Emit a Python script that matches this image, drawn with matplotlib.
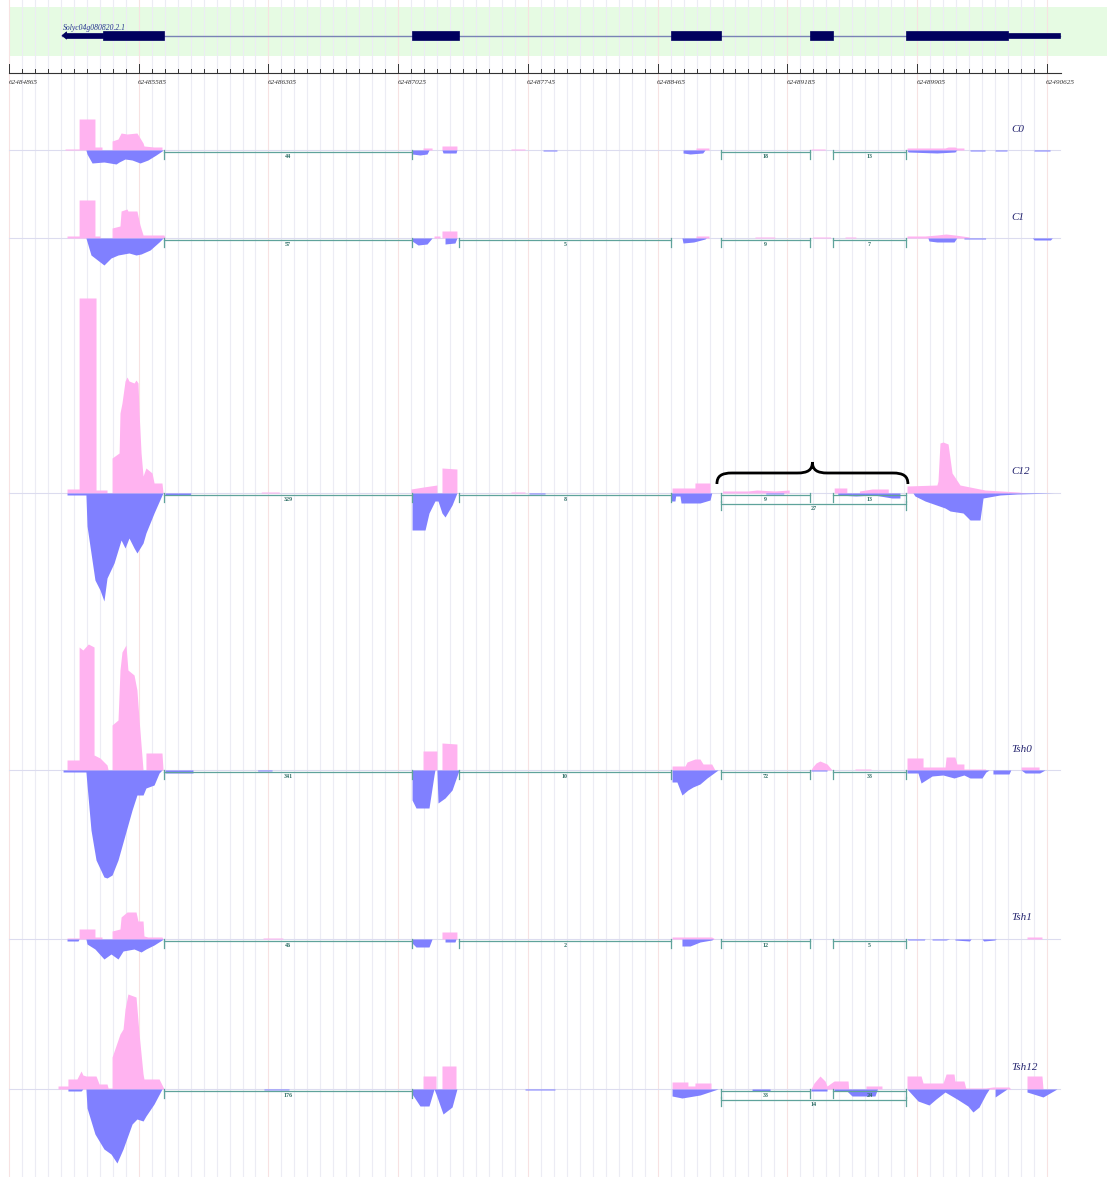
import numpy as np
import matplotlib
matplotlib.use("Agg")
import matplotlib.pyplot as plt
from matplotlib.path import Path
from matplotlib.patches import PathPatch, Rectangle, Polygon

# canvas size in pixels (dpi 100)
W, H = 1107, 1177

# genomic window, positions below are bp offsets from REGION_START
REGION_START = 62484865
X_MIN, X_MAX = -50, 6094

RULER_MAJOR = np.arange(0, 5761, 720)
RULER_MINOR = np.arange(0, 5761, 72)

# gene model
GENE_NAME = "Solyc04g080820.2.1"
GENE_SPAN = (294, 5833)
CDS_EXONS = [(522, 860), (2237, 2498), (3674, 3952), (4446, 4573), (4978, 5544)]
UTR_PARTS = [(318, 522), (5544, 5833)]

# tracks
TRACK_NAMES = ["C0", "C1", "C12", "Tsh0", "Tsh1", "Tsh12"]
TRACK_BASELINES = [150, 238, 493, 770, 939, 1089]   # pixel rows

# coverage: (position, depth) — plus strand drawn up, minus strand drawn down
C0_PLUS = [(311, 0), (311, 1), (389, 1), (389, 31), (477, 31), (477, 3), (516, 3), (516, 0),
           (572, 0), (572, 9), (605, 11), (622, 17), (655, 16), (710, 17), (744, 7), (749, 4), (805, 3), (849, 3), (849, 0),
           (2298, 0), (2298, 2), (2348, 2), (2348, 0), (2403, 0), (2403, 4), (2486, 4), (2486, 0),
           (2786, 0), (2786, 1), (2864, 1), (2864, 0),
           (3813, 0), (3813, 2), (3885, 2), (3885, 0),
           (4451, 0), (4451, 1), (4530, 1), (4530, 0),
           (4984, 0), (4984, 2), (5195, 2), (5212, 3), (5250, 3), (5261, 2), (5300, 2), (5300, 0)]
C0_MINUS = [(427, 0), (433, 4), (461, 13), (527, 12), (594, 14), (611, 12), (644, 9), (683, 10), (727, 13),
            (771, 10), (816, 5), (849, 1), (855, 0),
            (2237, 0), (2237, 4), (2281, 5), (2320, 4), (2331, 0),
            (2403, 0), (2409, 3), (2481, 3), (2486, 0),
            (2964, 0), (2964, 1), (3041, 1), (3041, 0),
            (3741, 0), (3741, 3), (3780, 4), (3850, 3), (3863, 0),
            (4984, 0), (4990, 2), (5150, 3), (5250, 2), (5260, 0),
            (5334, 0), (5334, 1), (5417, 1), (5417, 0),
            (5473, 0), (5473, 1), (5539, 1), (5539, 0),
            (5689, 0), (5689, 1), (5778, 1), (5778, 0)]

C1_PLUS = [(322, 0), (322, 2), (389, 2), (389, 38), (477, 38), (477, 2), (505, 2), (505, 0),
           (572, 0), (572, 10), (616, 12), (622, 27), (655, 29), (660, 27), (710, 27), (727, 13), (744, 3), (860, 3), (866, 0),
           (2359, 0), (2359, 2), (2392, 2), (2392, 0), (2403, 0), (2403, 7), (2486, 7), (2486, 0),
           (3813, 0), (3813, 2), (3885, 2), (3885, 0),
           (4140, 0), (4140, 1), (4250, 1), (4250, 0),
           (4460, 0), (4460, 1), (4560, 1), (4560, 0),
           (4640, 0), (4640, 1), (4700, 1), (4700, 0),
           (4984, 0), (4984, 2), (5084, 2), (5150, 3), (5200, 4), (5250, 3), (5330, 1), (5330, 0)]
C1_MINUS = [(427, 0), (455, 17), (527, 27), (566, 20), (605, 17), (666, 15), (705, 17), (733, 16), (783, 12), (833, 4), (855, 0),
            (2237, 0), (2237, 3), (2270, 7), (2320, 6), (2348, 0),
            (2420, 0), (2420, 6), (2475, 5), (2486, 0),
            (3735, 0), (3741, 5), (3800, 4), (3863, 1), (3870, 0),
            (5100, 0), (5106, 3), (5150, 4), (5245, 4), (5260, 0),
            (5300, 0), (5300, 1), (5420, 1), (5420, 0),
            (5680, 0), (5690, 2), (5780, 2), (5790, 0)]

C12_PLUS = [(322, 0), (322, 4), (389, 4), (389, 195), (483, 195), (483, 3), (544, 3), (544, 0),
            (572, 0), (572, 35), (611, 40), (616, 80), (627, 90), (644, 112), (655, 116), (666, 112), (694, 110),
            (705, 113), (716, 110), (722, 80), (733, 40), (744, 17), (760, 25), (794, 20), (805, 10), (849, 10), (855, 0),
            (1400, 0), (1400, 1), (1500, 1), (1500, 0),
            (2231, 0), (2231, 4), (2300, 6), (2375, 8), (2375, 0), (2403, 0), (2403, 25), (2486, 24), (2486, 0),
            (2786, 0), (2786, 1), (2864, 1), (2864, 0),
            (3680, 0), (3680, 5), (3807, 5), (3807, 10), (3891, 10), (3891, 0),
            (3960, 0), (3960, 2), (4100, 2), (4150, 3), (4250, 2), (4330, 3), (4330, 0),
            (4580, 0), (4580, 5), (4650, 5), (4650, 0),
            (4720, 0), (4720, 2), (4790, 4), (4880, 4), (4880, 0),
            (4984, 0), (4984, 7), (5150, 8), (5156, 12), (5167, 50), (5184, 51), (5212, 49), (5234, 20),
            (5278, 8), (5361, 5), (5417, 3), (5600, 1), (5650, 0)]
C12_MINUS = [(322, 0), (322, 2), (383, 2), (427, 2), (433, 33), (477, 87), (505, 97), (527, 108), (544, 85), (583, 70),
             (622, 47), (644, 55), (666, 45), (694, 55), (710, 60), (744, 50), (760, 40), (805, 20), (849, 2), (855, 0),
             (866, 0), (866, 2), (1005, 2), (1010, 0),
             (2237, 0), (2237, 37), (2309, 37), (2331, 20), (2364, 8), (2381, 8), (2403, 20), (2420, 24), (2459, 12), (2486, 0),
             (2886, 0), (2886, 1), (2975, 1), (2975, 0),
             (3674, 0), (3674, 8), (3696, 8), (3700, 3), (3724, 3), (3730, 10), (3835, 10), (3891, 7), (3900, 0),
             (4200, 0), (4200, 1), (4300, 1), (4300, 0),
             (4600, 0), (4600, 2), (4700, 3), (4800, 2), (4900, 5), (4945, 5), (4945, 0),
             (5017, 0), (5028, 3), (5084, 8), (5195, 15), (5223, 18), (5295, 20), (5334, 27), (5389, 27),
             (5406, 5), (5500, 2), (5594, 1), (5800, 0)]

TSH0_PLUS = [(322, 0), (322, 10), (389, 10), (389, 123), (410, 120), (440, 126), (472, 123), (472, 15), (505, 12), (544, 5), (550, 0),
             (572, 0), (572, 45), (605, 50), (616, 100), (627, 118), (649, 125), (660, 100), (694, 95), (710, 80),
             (722, 50), (744, 0),
             (760, 0), (760, 17), (849, 17), (855, 0),
             (2298, 0), (2298, 19), (2375, 19), (2375, 0), (2403, 0), (2403, 27), (2486, 26), (2486, 0),
             (3680, 0), (3680, 4), (3752, 4), (3763, 8), (3807, 11), (3835, 11), (3852, 6), (3900, 6), (3918, 0),
             (4451, 0), (4460, 3), (4479, 7), (4501, 9), (4540, 6), (4568, 0),
             (4695, 0), (4695, 1), (4784, 1), (4784, 0),
             (4984, 0), (4984, 12), (5073, 12), (5073, 3), (5195, 3), (5201, 13), (5250, 13), (5261, 6), (5300, 6),
             (5300, 1), (5420, 1), (5420, 0),
             (5617, 0), (5617, 3), (5717, 3), (5717, 0)]
TSH0_MINUS = [(300, 0), (300, 2), (427, 2), (433, 15), (455, 60), (483, 90), (527, 107), (544, 108), (572, 105), (605, 90),
              (644, 65), (683, 40), (710, 25), (744, 25), (760, 18), (805, 15), (833, 3), (849, 0),
              (866, 0), (866, 3), (1021, 3), (1021, 0),
              (1380, 0), (1380, 1), (1460, 1), (1460, 0),
              (2237, 0), (2237, 30), (2259, 38), (2331, 38), (2359, 5), (2364, 0), (2375, 0), (2381, 33), (2420, 28), (2459, 20), (2498, 0),
              (3680, 0), (3680, 12), (3707, 12), (3735, 25), (3768, 20), (3796, 17), (3835, 14), (3874, 8), (3935, 0),
              (4451, 0), (4451, 1), (4540, 1), (4540, 0),
              (4984, 0), (4984, 3), (5045, 3), (5062, 13), (5123, 6), (5184, 5), (5245, 8), (5300, 5), (5334, 8),
              (5400, 8), (5422, 2), (5440, 0),
              (5461, 0), (5461, 4), (5550, 4), (5560, 0),
              (5617, 0), (5640, 3), (5720, 3), (5750, 0)]

TSH1_PLUS = [(322, 0), (322, 1), (389, 1), (389, 10), (477, 10), (477, 2), (516, 2), (516, 0),
             (572, 0), (572, 8), (616, 10), (622, 22), (655, 27), (705, 27), (716, 18), (744, 18), (749, 3), (771, 2), (849, 2), (855, 0),
             (1410, 0), (1410, 1), (1520, 1), (1520, 0),
             (2403, 0), (2403, 7), (2486, 7), (2486, 0),
             (3680, 0), (3680, 2), (3900, 2), (3918, 0),
             (5650, 0), (5650, 2), (5733, 2), (5733, 0)]
TSH1_MINUS = [(322, 0), (322, 2), (383, 2), (389, 0), (427, 0), (433, 5), (477, 10), (527, 20), (566, 15), (605, 20), (633, 12),
              (694, 10), (733, 13), (760, 10), (805, 6), (849, 1), (855, 0),
              (2237, 0), (2237, 4), (2259, 8), (2331, 8), (2348, 0),
              (2420, 0), (2420, 3), (2475, 3), (2481, 0),
              (3735, 0), (3735, 7), (3780, 7), (3835, 3), (3900, 1), (3910, 0),
              (4984, 0), (4990, 1), (5080, 1), (5084, 0), (5123, 0), (5123, 1), (5200, 1), (5220, 0),
              (5250, 0), (5250, 1), (5330, 2), (5340, 0), (5400, 0), (5410, 2), (5470, 1), (5480, 0)]

TSH12_PLUS = [(272, 0), (272, 3), (327, 3), (327, 10), (377, 10), (400, 18), (410, 14), (427, 13), (483, 13), (500, 5),
              (544, 5), (550, 1), (572, 1),
              (572, 32), (616, 55), (633, 60), (644, 80), (660, 95), (705, 92), (722, 55), (744, 15), (749, 10),
              (833, 10), (855, 2), (860, 0),
              (2298, 0), (2298, 13), (2370, 13), (2370, 0), (2403, 0), (2403, 23), (2481, 23), (2481, 0),
              (3680, 0), (3680, 7), (3768, 7), (3768, 3), (3807, 3), (3807, 6), (3896, 6), (3896, 0),
              (4451, 0), (4468, 6), (4501, 13), (4529, 8), (4540, 3), (4579, 8), (4657, 8), (4660, 0),
              (4756, 0), (4756, 3), (4845, 3), (4845, 0),
              (4984, 0), (4984, 13), (5062, 13), (5073, 6), (5184, 6), (5201, 15), (5245, 15), (5250, 8), (5300, 8),
              (5310, 1), (5420, 1), (5461, 2), (5550, 2), (5560, 0),
              (5650, 0), (5650, 13), (5733, 13), (5739, 0)]
TSH12_MINUS = [(327, 0), (327, 2), (400, 2), (410, 0), (427, 0), (433, 19), (477, 45), (527, 60), (566, 65), (599, 74),
               (633, 60), (683, 35), (710, 30), (744, 32), (760, 27), (805, 15), (849, 0),
               (1415, 0), (1415, 1), (1554, 1), (1554, 0),
               (2237, 0), (2237, 5), (2281, 17), (2331, 17), (2359, 0), (2370, 5), (2409, 25), (2459, 18), (2486, 0),
               (2864, 0), (2864, 1), (3030, 1), (3030, 0),
               (3680, 0), (3680, 7), (3735, 9), (3835, 6), (3935, 0),
               (4124, 0), (4124, 2), (4224, 2), (4224, 0),
               (4451, 0), (4451, 2), (4540, 2), (4540, 0),
               (4579, 0), (4579, 2), (4650, 2), (4679, 7), (4806, 7), (4820, 0),
               (4984, 0), (5045, 12), (5106, 16), (5145, 10), (5195, 3), (5261, 10), (5322, 17), (5350, 23),
               (5384, 18), (5422, 5), (5440, 0),
               (5473, 0), (5473, 8), (5539, 0),
               (5650, 0), (5650, 3), (5739, 8), (5816, 0)]

# splice junctions: (start, end, read count, row)
C0_JUNCTIONS = [(860, 2237, 44, 1), (3952, 4446, 18, 1), (4573, 4978, 13, 1)]
C1_JUNCTIONS = [(860, 2237, 57, 1), (2498, 3674, 5, 1), (3952, 4446, 9, 1), (4573, 4978, 7, 1)]
C12_JUNCTIONS = [(860, 2237, 329, 1), (2498, 3674, 8, 1), (3952, 4446, 9, 1), (4573, 4978, 13, 1), (3952, 4978, 27, 2)]
TSH0_JUNCTIONS = [(860, 2237, 341, 1), (2498, 3674, 10, 1), (3952, 4446, 72, 1), (4573, 4978, 33, 1)]
TSH1_JUNCTIONS = [(860, 2237, 46, 1), (2498, 3674, 2, 1), (3952, 4446, 12, 1), (4573, 4978, 5, 1)]
TSH12_JUNCTIONS = [(860, 2237, 176, 1), (3952, 4446, 33, 1), (4573, 4978, 24, 1), (3952, 4978, 14, 2)]

TRACK_PLUS = [C0_PLUS, C1_PLUS, C12_PLUS, TSH0_PLUS, TSH1_PLUS, TSH12_PLUS]
TRACK_MINUS = [C0_MINUS, C1_MINUS, C12_MINUS, TSH0_MINUS, TSH1_MINUS, TSH12_MINUS]
TRACK_JUNCTIONS = [C0_JUNCTIONS, C1_JUNCTIONS, C12_JUNCTIONS, TSH0_JUNCTIONS, TSH1_JUNCTIONS, TSH12_JUNCTIONS]

# brace over the exon-skipping region in C12
BRACE_TRACK = "C12"
BRACE_SPAN = (3929, 4989)

PLUS_COLOR = "#ffb3f0"
MINUS_COLOR = "#8080ff"
JUNC_COLOR = "#5fa39b"
JUNC_TEXT = "#2e6e66"
NAVY = "#00005e"
LABEL_COLOR = "#23236e"
SERIF = ["Liberation Serif", "DejaVu Serif"]

fig = plt.figure(figsize=(W / 100, H / 100), dpi=100)

# background: gene model band, ruler and grid (y in pixel rows)
bg = fig.add_axes([0, 0, 1, 1])
bg.set_xlim(X_MIN, X_MAX)
bg.set_ylim(H, 0)
bg.axis("off")

bg.add_patch(Rectangle((0, 7), X_MAX, 49, facecolor="#e6fbe3", edgecolor="none", zorder=0))
for x in RULER_MINOR:
    major = x % 720 == 0
    bg.axvline(x, color="#f7e2e2" if major else "#ececf4", lw=0.8, zorder=1)

# gene model
bg.plot(GENE_SPAN, [35.5, 35.5], color="#7883b5", lw=1.0, zorder=2)
for s, e in CDS_EXONS:
    bg.add_patch(Rectangle((s, 31), e - s, 9, facecolor=NAVY, edgecolor=NAVY, lw=0.5, zorder=3))
for s, e in UTR_PARTS:
    bg.add_patch(Rectangle((s, 33.3), e - s, 4.6, facecolor=NAVY, edgecolor=NAVY, lw=0.5, zorder=3))
bg.add_patch(Polygon([(GENE_SPAN[0], 35.5), (GENE_SPAN[0] + 26, 31.8), (GENE_SPAN[0] + 26, 39.2)],
                     closed=True, facecolor=NAVY, edgecolor=NAVY, lw=0.5, zorder=3))
bg.text(GENE_SPAN[0] + 6, 28, GENE_NAME, fontsize=5.5, style="italic", family=SERIF,
        color="#24338f", ha="left", va="center", zorder=4)

# ruler
bg.plot([0, 5839], [73, 73], color="#333333", lw=0.8, zorder=3)
for x in RULER_MINOR:
    top = 63.5 if x % 720 == 0 else 68.5
    bg.plot([x, x], [top, 73], color="#333333", lw=0.7, zorder=3)
for x in RULER_MAJOR:
    bg.text(x - 4, 83, str(REGION_START + x), fontsize=5.2, style="italic", family=SERIF,
            color="#333333", ha="left", va="center", zorder=3)

ABOVE, BELOW = 205, 120


def draw_junction(ax, start, end, count, row):
    y_line = -2 if row == 1 else -11
    y_lo = -9 if row == 1 else -17
    y_hi = 0 if row == 1 else -8
    ax.plot([start, end], [y_line, y_line], color=JUNC_COLOR, lw=0.9, zorder=4)
    for x in (start, end):
        ax.plot([x, x], [y_hi, y_lo], color=JUNC_COLOR, lw=0.9, zorder=4)
    ax.text((start + end) / 2, y_line - 4.6, str(count), fontsize=4.3, family=SERIF, fontweight="bold",
            color=JUNC_TEXT, ha="center", va="center", zorder=5)


def draw_brace(ax, x0, x1):
    xm = (x0 + x1) / 2
    r = 85
    verts = [(x0, 9), (x0, 17), (x0 + 25, 20), (x0 + r, 20),
             (xm - r, 20),
             (xm - 25, 20), (xm, 23), (xm, 31),
             (xm, 23), (xm + 25, 20), (xm + r, 20),
             (x1 - r, 20),
             (x1 - 25, 20), (x1, 17), (x1, 9)]
    codes = [Path.MOVETO, Path.CURVE4, Path.CURVE4, Path.CURVE4,
             Path.LINETO,
             Path.CURVE4, Path.CURVE4, Path.CURVE4,
             Path.CURVE4, Path.CURVE4, Path.CURVE4,
             Path.LINETO,
             Path.CURVE4, Path.CURVE4, Path.CURVE4]
    ax.add_patch(PathPatch(Path(verts, codes), facecolor="none", edgecolor="black", lw=2.0, zorder=6))


for name, base, plus, minus, juncs in zip(TRACK_NAMES, TRACK_BASELINES, TRACK_PLUS, TRACK_MINUS, TRACK_JUNCTIONS):
    rect = [0, (H - base - BELOW) / H, 1, (ABOVE + BELOW) / H]
    ax = fig.add_axes(rect)
    ax.set_xlim(X_MIN, X_MAX)
    ax.set_ylim(-BELOW, ABOVE)
    ax.patch.set_alpha(0)
    ax.axis("off")

    ax.plot([0, 5833], [0, 0], color="#dcdcef", lw=0.8, zorder=1)
    px, py = np.array(plus, dtype=float).T
    mx, my = np.array(minus, dtype=float).T
    ax.fill_between(px, 0, py, color=PLUS_COLOR, lw=0, zorder=2)
    ax.fill_between(mx, 0, -my, color=MINUS_COLOR, lw=0, zorder=3)

    for start, end, count, row in juncs:
        draw_junction(ax, start, end, count, row)

    ax.text(5561, 21, name, fontsize=8, style="italic", family=SERIF, color=LABEL_COLOR,
            ha="left", va="center", zorder=5)

    if name == BRACE_TRACK:
        draw_brace(ax, *BRACE_SPAN)

fig.savefig("out.png", dpi=100)
